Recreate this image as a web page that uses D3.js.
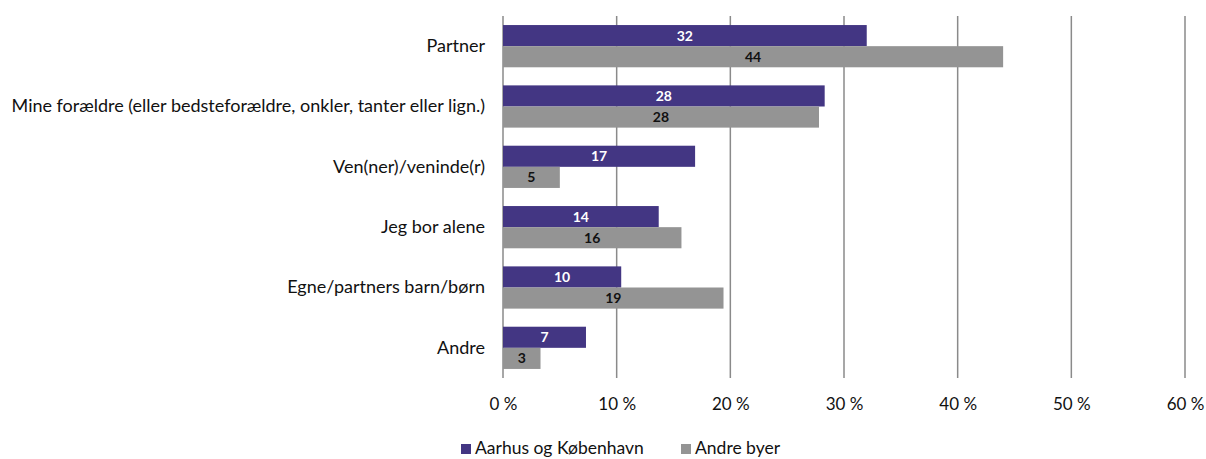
<!DOCTYPE html>
<html>
<head>
<meta charset="utf-8">
<script src="https://cdn.jsdelivr.net/npm/d3@7"></script>
<style>
  body { margin: 0; background: #fff; }
  svg { display: block; font-family: Lato, "Open Sans", sans-serif; }
</style>
</head>
<body>
<div id="chart"></div>
<script>
// categories and the two series (percent)
const categories = [
  'Partner',
  'Mine forældre (eller bedsteforældre, onkler, tanter eller lign.)',
  'Ven(ner)/veninde(r)',
  'Jeg bor alene',
  'Egne/partners barn/børn',
  'Andre'
];
const seriesNames = ['Aarhus og København', 'Andre byer'];
const aarhusKbh = [32.0, 28.3, 16.9, 13.7, 10.4, 7.3];
const andreByer = [44.0, 27.8, 5.0, 15.7, 19.4, 3.3];
const xTicks = [0, 10, 20, 30, 40, 50, 60];

const colors = ['#433683', '#949494'];
const labelColors = ['#ffffff', '#111111'];

const width = 1206, height = 459;
const margin = { top: 16, right: 21, bottom: 81, left: 503 };

const svg = d3.select('#chart').append('svg')
  .attr('width', width)
  .attr('height', height);

const x = d3.scaleLinear()
  .domain([0, 60])
  .range([margin.left, width - margin.right]);

const y = d3.scaleBand()
  .domain(categories)
  .range([margin.top, height - margin.bottom])
  .paddingInner(0.3)
  .paddingOuter(0.15);

const ySub = d3.scaleBand()
  .domain(seriesNames)
  .range([0, y.bandwidth()]);

// gridlines
svg.append('g')
  .selectAll('line')
  .data(xTicks)
  .join('line')
    .attr('x1', d => x(d))
    .attr('x2', d => x(d))
    .attr('y1', margin.top)
    .attr('y2', height - margin.bottom)
    .attr('stroke', '#8a8a8a')
    .attr('stroke-width', 1.5);

// x axis labels
const xAxis = d3.axisBottom(x)
  .tickValues(xTicks)
  .tickSize(0)
  .tickPadding(20)
  .tickFormat(d => d + ' %');

svg.append('g')
  .attr('transform', `translate(0,${height - margin.bottom})`)
  .call(xAxis)
  .call(g => g.select('.domain').remove())
  .call(g => g.selectAll('text')
    .attr('font-family', 'Lato, sans-serif')
    .attr('font-size', 17)
    .attr('fill', '#111'));

// category labels
const yAxis = d3.axisLeft(y).tickSize(0).tickPadding(18);
svg.append('g')
  .attr('transform', `translate(${margin.left},0)`)
  .call(yAxis)
  .call(g => g.select('.domain').remove())
  .call(g => g.selectAll('text')
    .attr('font-family', 'Lato, sans-serif')
    .attr('font-size', 18)
    .attr('fill', '#111'));

// bars
const rows = categories.map((c, i) => ({ cat: c, vals: [aarhusKbh[i], andreByer[i]] }));

const groups = svg.append('g')
  .selectAll('g')
  .data(rows)
  .join('g')
    .attr('transform', d => `translate(0,${y(d.cat)})`);

groups.selectAll('rect')
  .data(d => d.vals.map((v, j) => ({ v, j })))
  .join('rect')
    .attr('x', x(0))
    .attr('y', d => ySub(seriesNames[d.j]))
    .attr('width', d => x(d.v) - x(0))
    .attr('height', ySub.bandwidth())
    .attr('fill', d => colors[d.j]);

groups.selectAll('text')
  .data(d => d.vals.map((v, j) => ({ v, j })))
  .join('text')
    .attr('x', d => (x(0) + x(d.v)) / 2)
    .attr('y', d => ySub(seriesNames[d.j]) + ySub.bandwidth() / 2)
    .attr('dy', '0.36em')
    .attr('text-anchor', 'middle')
    .attr('font-size', 14)
    .attr('font-weight', 'bold')
    .attr('fill', d => labelColors[d.j])
    .text(d => Math.round(d.v));

// legend (kept just inside the bottom edge)
const legend = svg.append('g').attr('transform', 'translate(461,448)');
const legendX = [0, 220];
seriesNames.forEach((name, i) => {
  const item = legend.append('g').attr('transform', `translate(${legendX[i]},0)`);
  item.append('rect')
    .attr('x', 0).attr('y', -4)
    .attr('width', 10).attr('height', 10)
    .attr('fill', colors[i]);
  item.append('text')
    .attr('x', 14).attr('y', 0)
    .attr('dy', '0.36em')
    .attr('font-size', 17.5)
    .attr('fill', '#111')
    .text(name);
});
</script>
</body>
</html>
